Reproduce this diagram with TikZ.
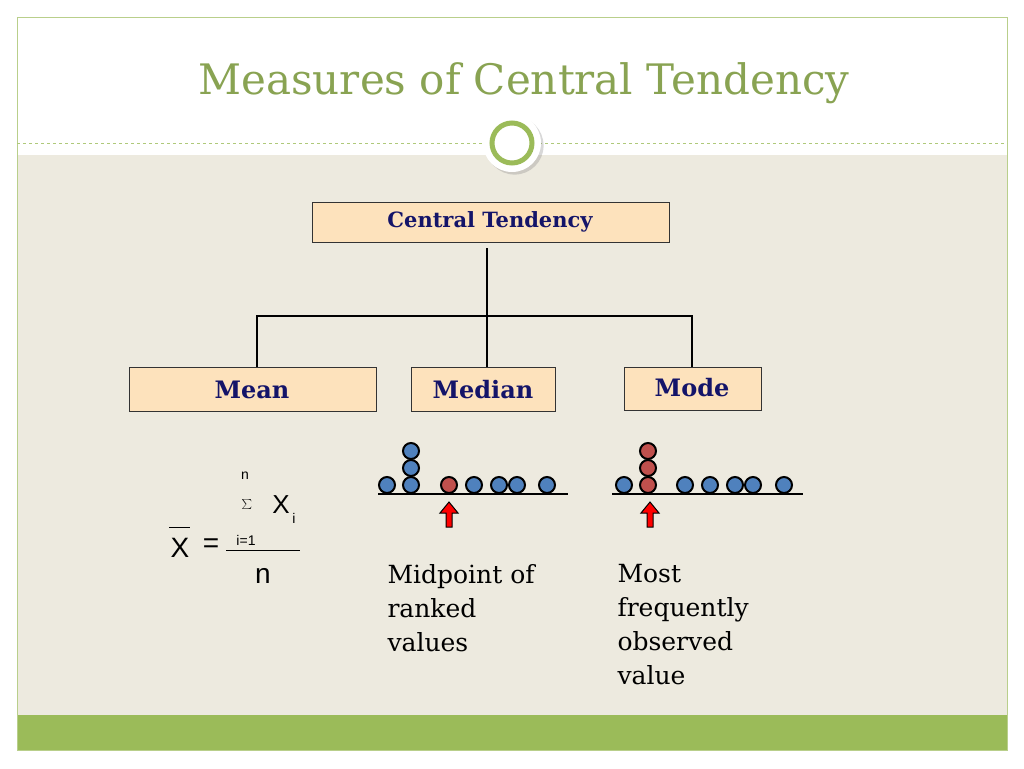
\documentclass[tikz,border=0pt]{standalone}
\usepackage{fontspec}
\setmainfont{DejaVu Serif}
\newfontfamily\arialf{Liberation Sans}
\usetikzlibrary{shadows}
\definecolor{beige}{RGB}{237,234,223}
\definecolor{gbar}{RGB}{155,187,89}
\definecolor{ttl}{RGB}{137,163,82}
\definecolor{peach}{RGB}{253,226,188}
\definecolor{navy}{RGB}{20,20,105}
\definecolor{dblue}{RGB}{79,129,189}
\definecolor{dred}{RGB}{192,80,77}
\begin{document}
\begin{tikzpicture}[x=1pt,y=-1pt,
 box/.style={draw=black!80,fill=peach,line width=0.8pt},
 lbl/.style={text=navy,font=\bfseries\fontsize{#1}{#1}\selectfont},
 conn/.style={line width=1.5pt},
 dot/.style={circle,draw=black,line width=2pt,fill=dblue,minimum size=16pt,inner sep=0pt},
 rdot/.style={dot,fill=dred},
 base/.style={line width=2.2pt},
 up/.style={draw=black,fill=red,line width=1pt},
 txt/.style={anchor=north west,align=left,font=\fontsize{25}{34}\selectfont}]
\useasboundingbox (0,0) rectangle (1024,768);
\fill[white] (0,0) rectangle (1024,768);
\fill[beige] (17,155) rectangle (1007,715);
\fill[gbar] (17,715) rectangle (1007,750);
\draw[gbar!70,line width=0.8pt] (17,17) rectangle (1007,750);
\draw[gbar!80,dashed,line width=0.6pt] (17,143) -- (1007,143);
\node[text=ttl,font=\fontsize{42}{42}\selectfont] (title) at (524,83) {Measures of Central Tendency};
\node[circle,fill=white,minimum size=58pt,drop shadow={opacity=0.3}] (ring0) at (512,143) {};
\node[circle,draw=gbar,line width=5pt,minimum size=40pt] (ring) at (512,143) {};
% boxes
\draw[box] (312,202) rectangle (669,242);
\node[lbl=21] (ct) at (490,222) {Central Tendency};
\draw[box] (129,367) rectangle (376,411);
\node[lbl=24] (mean) at (252,390) {Mean};
\draw[box] (411,367) rectangle (555,411);
\node[lbl=24] (median) at (483,390) {Median};
\draw[box] (624,367) rectangle (761,410);
\node[lbl=24] (mode) at (692,388) {Mode};
\coordinate (top) at (487,248);
\coordinate (j) at (487,316);
\draw[conn] (top) -- (487,367);
\draw[conn] (257,367) -- (257,316) -- (692,316) -- (692,367);
% dots median
\draw[base] (378,494) -- (568,494);
\foreach \x in {387,474,499,517,547} \node[dot] at (\x,485) {};
\foreach \y in {485,468,451} \node[dot] at (411,\y) {};
\node[rdot] at (449,485) {};
\draw[up] (446,527) -- (446,513) -- (440,513) -- (449,502) -- (458,513) -- (452,513) -- (452,527) -- cycle;
% dots mode
\draw[base] (612,494) -- (803,494);
\foreach \x in {624,685,710,735,753,784} \node[dot] at (\x,485) {};
\foreach \y in {485,468,451} \node[rdot] at (648,\y) {};
\draw[up] (647,527) -- (647,513) -- (641,513) -- (650,502) -- (659,513) -- (653,513) -- (653,527) -- cycle;
% texts
\node[txt] (t1) at (384,561) {Midpoint of\\ranked\\values};
\node[txt] (t2) at (614,561) {Most\\frequently\\observed\\value};
% formula
\begin{scope}[every node/.style={font=\arialf}]
\node[font=\arialf\fontsize{28}{28}\selectfont] (X) at (180,548) {X};
\draw[line width=1pt] (169,527) -- (190,527);
\node[font=\arialf\fontsize{28}{28}\selectfont] (eq) at (211,546) {=};
\draw[line width=1pt] (226,550) -- (300,550);
\node[font=\fontsize{36}{36}\selectfont] (sig) at (247,505) {$\sum$};
\node[font=\arialf\fontsize{26}{26}\selectfont] (Xi) at (281,505) {X};
\node[font=\arialf\fontsize{14}{14}\selectfont] (i) at (294,518) {i};
\node[font=\arialf\fontsize{14}{14}\selectfont] (n1) at (245,476) {n};
\node[font=\arialf\fontsize{14}{14}\selectfont] (i1) at (246,540) {i=1};
\node[font=\arialf\fontsize{28}{28}\selectfont] (n2) at (263,576) {n};
\end{scope}
\end{tikzpicture}
\end{document}
